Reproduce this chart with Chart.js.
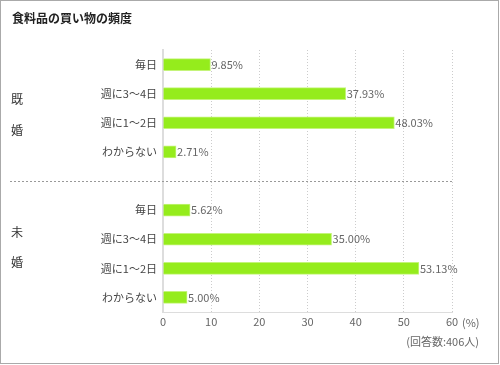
<!DOCTYPE html>
<html>
<head>
<meta charset="utf-8">
<script src="https://cdn.jsdelivr.net/npm/chart.js@4/dist/chart.umd.min.js"></script>
<style>
  html, body { margin: 0; padding: 0; background: #fff; }
  #wrap { position: relative; width: 500px; height: 365px; font-family: "Noto Sans CJK JP", "Noto Sans", sans-serif; }
  #c { position: absolute; left: 0; top: 0; }
  #frame { position: absolute; left: 0; top: 0; width: 499px; height: 364px; box-sizing: border-box; border: 1px solid #aaaaaa; pointer-events: none; }
  #title { position: absolute; left: 12px; top: 9px; font-size: 12px; font-weight: bold; color: #222; white-space: nowrap; }
  #unit { position: absolute; left: 462px; top: 314px; font-size: 11px; color: #666; white-space: nowrap; }
  #note { position: absolute; right: 21px; top: 333px; font-size: 11px; color: #666; white-space: nowrap; }
</style>
</head>
<body>
<div id="wrap">
  <canvas id="c" width="500" height="365"></canvas>
  <div id="title">食料品の買い物の頻度</div>
  <div id="unit">(%)</div>
  <div id="note">(回答数:406人)</div>
  <div id="frame"></div>
</div>
<script>
// ---- data ----
const answerLabels = ["毎日", "週に3〜4日", "週に1〜2日", "わからない"];
const marriedValues = [9.85, 37.93, 48.03, 2.71];
const unmarriedValues = [5.62, 35.00, 53.13, 5.00];
const groupNames = ["既婚", "未婚"];
const xTicks = [0, 10, 20, 30, 40, 50, 60];

// table built from the arrays (an empty slot separates the groups)
const labels = [...answerLabels, "", ...answerLabels];
const values = [...marriedValues, null, ...unmarriedValues];

const FONT = '"Noto Sans CJK JP", "Noto Sans", sans-serif';

const decorPlugin = {
  id: 'decor',
  afterDatasetsDraw(chart) {
    const ctx = chart.ctx;
    const x = chart.scales.x, y = chart.scales.y;
    const meta = chart.getDatasetMeta(0);
    ctx.save();
    // value labels
    ctx.font = '11px ' + FONT;
    ctx.fillStyle = '#666';
    ctx.textAlign = 'left';
    ctx.textBaseline = 'middle';
    meta.data.forEach((bar, i) => {
      const v = values[i];
      if (v === null || v === undefined) return;
      ctx.fillText(v.toFixed(2) + '%', bar.x + 1, bar.y);
    });
    // separator
    const sepY = Math.round(y.getPixelForValue(answerLabels.length)) + 0.5;
    ctx.strokeStyle = '#999';
    ctx.lineWidth = 1;
    ctx.setLineDash([2, 2]);
    ctx.beginPath();
    ctx.moveTo(10, sepY);
    ctx.lineTo(x.right, sepY);
    ctx.stroke();
    ctx.setLineDash([]);
    // group labels (vertical characters)
    ctx.font = '12px ' + FONT;
    ctx.fillStyle = '#333';
    ctx.textAlign = 'left';
    const pos = [[1.2, 2.25], [5.75, 6.8]];
    groupNames.forEach((g, gi) => {
      [...g].forEach((ch, ci) => {
        ctx.fillText(ch, 11, y.getPixelForValue(pos[gi][ci]));
      });
    });
    ctx.restore();
  }
};

new Chart(document.getElementById('c'), {
  type: 'bar',
  data: {
    labels: labels,
    datasets: [{
      data: values,
      backgroundColor: '#95ec1c',
      borderColor: '#c4f47a',
      borderWidth: 1,
      borderSkipped: 'left',
      barThickness: 12
    }]
  },
  options: {
    indexAxis: 'y',
    responsive: false,
    animation: false,
    devicePixelRatio: 1,
    layout: { padding: { left: 10, top: 50, right: 48, bottom: 33 } },
    plugins: { legend: { display: false }, tooltip: { enabled: false }, title: { display: false } },
    scales: {
      x: {
        min: 0, max: 60,
        afterBuildTicks(s) { s.ticks = xTicks.map(v => ({ value: v })); },
        afterFit(s) { s.height = 20; },
        ticks: { color: '#666', font: { family: FONT, size: 11 }, padding: 3, maxRotation: 0 },
        grid: { color: '#cccccc', drawTicks: false, lineWidth: 1 },
        border: { color: '#dddddd', width: 1, dash: [1, 2] }
      },
      y: {
        afterFit(s) { s.width = 153; },
        ticks: { color: '#444', font: { family: FONT, size: 11 }, padding: 6, autoSkip: false },
        grid: { display: false, drawTicks: false },
        border: { display: true, color: '#dddddd', width: 2 }
      }
    }
  },
  plugins: [decorPlugin]
});
</script>
</body>
</html>
